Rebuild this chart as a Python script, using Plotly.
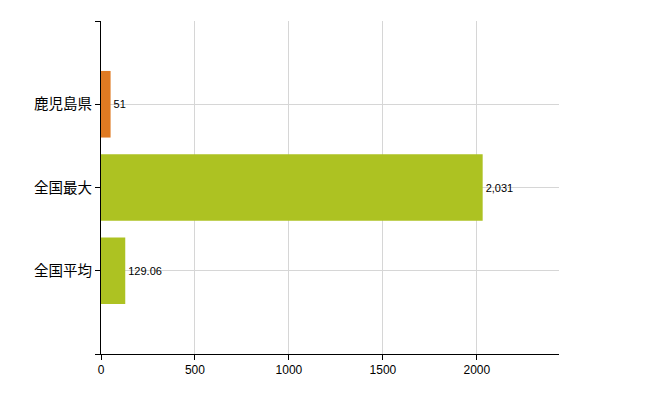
import plotly.graph_objects as go

categories = ["鹿児島県", "全国最大", "全国平均"]
values = [51, 2031, 129.06]
value_labels = ["51", "2,031", "129.06"]
colors = ["#E07A22", "#ADC222", "#ADC222"]

# bottom-up positions so first category is at the top
n = len(categories)
ypos = [n - i for i in range(n)]

fig = go.Figure()
fig.add_trace(go.Bar(
    x=values,
    y=ypos,
    orientation="h",
    width=0.8,
    marker=dict(color=colors, line=dict(width=0)),
    text=value_labels,
    textposition="outside",
    textfont=dict(family="Liberation Sans, Arial, sans-serif", size=11, color="#000000"),
    cliponaxis=False,
    hoverinfo="skip",
))

fig.update_layout(
    width=650,
    height=400,
    margin=dict(l=101, r=91, t=21, b=46),
    paper_bgcolor="white",
    plot_bgcolor="white",
    showlegend=False,
    font=dict(family="Noto Sans CJK JP, sans-serif", color="#000000"),
    xaxis=dict(
        range=[0, max(values) * 1.2],
        tickvals=[0, 500, 1000, 1500, 2000],
        showgrid=True,
        gridcolor="#D6D6D6",
        gridwidth=1,
        showline=True,
        linecolor="#000000",
        linewidth=1,
        ticks="outside",
        ticklen=5,
        tickcolor="#000000",
        tickfont=dict(family="Liberation Sans, Arial, sans-serif", size=12, color="#000000"),
        zeroline=False,
        fixedrange=True,
    ),
    yaxis=dict(
        range=[0, n + 1],
        tickvals=list(range(0, n + 2)),
        ticktext=[""] + categories[::-1] + [""],
        showgrid=True,
        gridcolor="#D6D6D6",
        gridwidth=1,
        showline=True,
        linecolor="#000000",
        linewidth=1,
        ticks="outside",
        ticklen=5,
        tickcolor="#000000",
        tickfont=dict(family="Noto Sans CJK JP, sans-serif", size=14.5, color="#000000"),
        zeroline=False,
        fixedrange=True,
    ),
)

fig.write_html(
    "out.html",
    config={"displayModeBar": False, "staticPlot": True},
    post_script="document.body.style.margin='0';document.body.style.padding='0';",
)
